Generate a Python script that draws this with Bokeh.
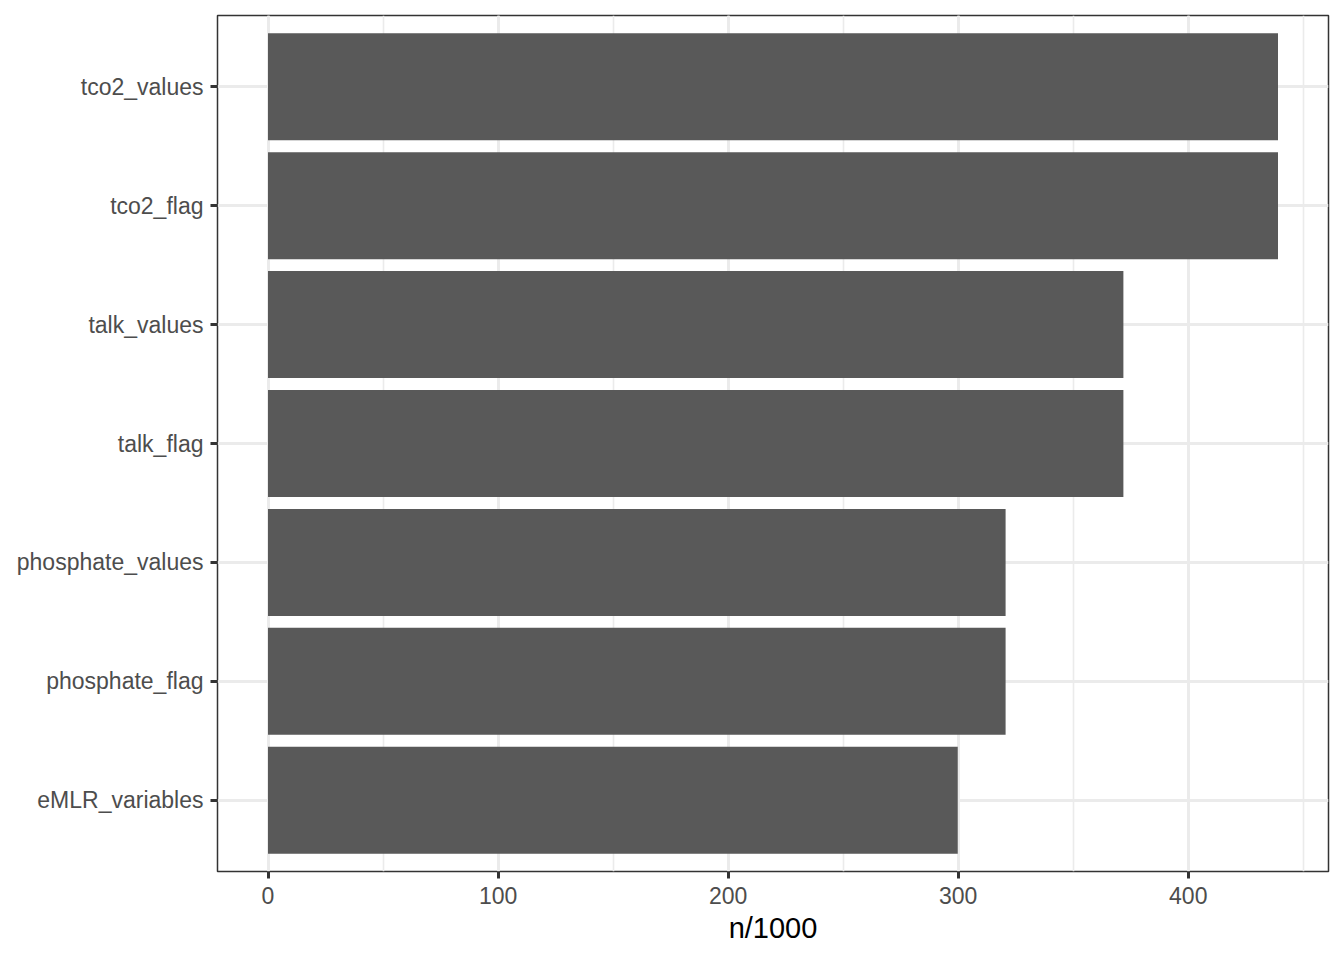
from bokeh.plotting import figure
from bokeh.models import Range1d, FactorRange, SingleIntervalTicker, ColumnDataSource
from bokeh.embed import file_html
from bokeh.resources import INLINE

# data (bottom to top)
variables = ["eMLR_variables", "phosphate_flag", "phosphate_values",
             "talk_flag", "talk_values", "tco2_flag", "tco2_values"]
n_thousand = [299.8, 320.6, 320.6, 371.8, 371.8, 439.0, 439.0]
x_ticks = [0, 100, 200, 300, 400]

src = ColumnDataSource(dict(var=variables, n=n_thousand))

xmax = max(n_thousand)
pad = 0.05 * xmax

p = figure(width=1336, height=952, output_backend="svg", toolbar_location=None,
           y_range=FactorRange(factors=variables, range_padding=0.2 / len(variables),
                               range_padding_units="percent"),
           x_range=Range1d(-pad, xmax + pad),
           min_border_left=217, min_border_right=8, min_border_top=15, min_border_bottom=81)

p.hbar(y="var", right="n", left=0, height=0.9, source=src,
       fill_color="#595959", line_color=None)

p.background_fill_color = "white"
p.border_fill_color = "white"
p.outline_line_color = "#333333"
p.outline_line_width = 1.5

ticker = SingleIntervalTicker(interval=100, num_minor_ticks=2)
p.xaxis.ticker = ticker
p.xgrid.ticker = ticker
p.xgrid.grid_line_color = "#EBEBEB"
p.xgrid.grid_line_width = 3
p.xgrid.minor_grid_line_color = "#EBEBEB"
p.xgrid.minor_grid_line_width = 1.6
p.ygrid.grid_line_color = "#EBEBEB"
p.ygrid.grid_line_width = 3

for ax in (p.xaxis[0], p.yaxis[0]):
    ax.axis_line_color = None
    ax.major_tick_in = 0
    ax.major_tick_out = 7
    ax.major_tick_line_color = "#333333"
    ax.major_tick_line_width = 3
    ax.minor_tick_line_color = None
    ax.major_label_text_font = "Liberation Sans"
    ax.major_label_text_font_size = "23px"
    ax.major_label_text_color = "#4D4D4D"

p.xaxis.major_label_standoff = 8
p.yaxis.major_label_standoff = 7

p.xaxis.axis_label = "n/1000"
p.xaxis.axis_label_text_font = "Liberation Sans"
p.xaxis.axis_label_text_font_size = "29px"
p.xaxis.axis_label_text_font_style = "normal"
p.xaxis.axis_label_text_color = "black"
p.xaxis.axis_label_standoff = 5

open("out.html", "w").write(file_html(p, INLINE))
